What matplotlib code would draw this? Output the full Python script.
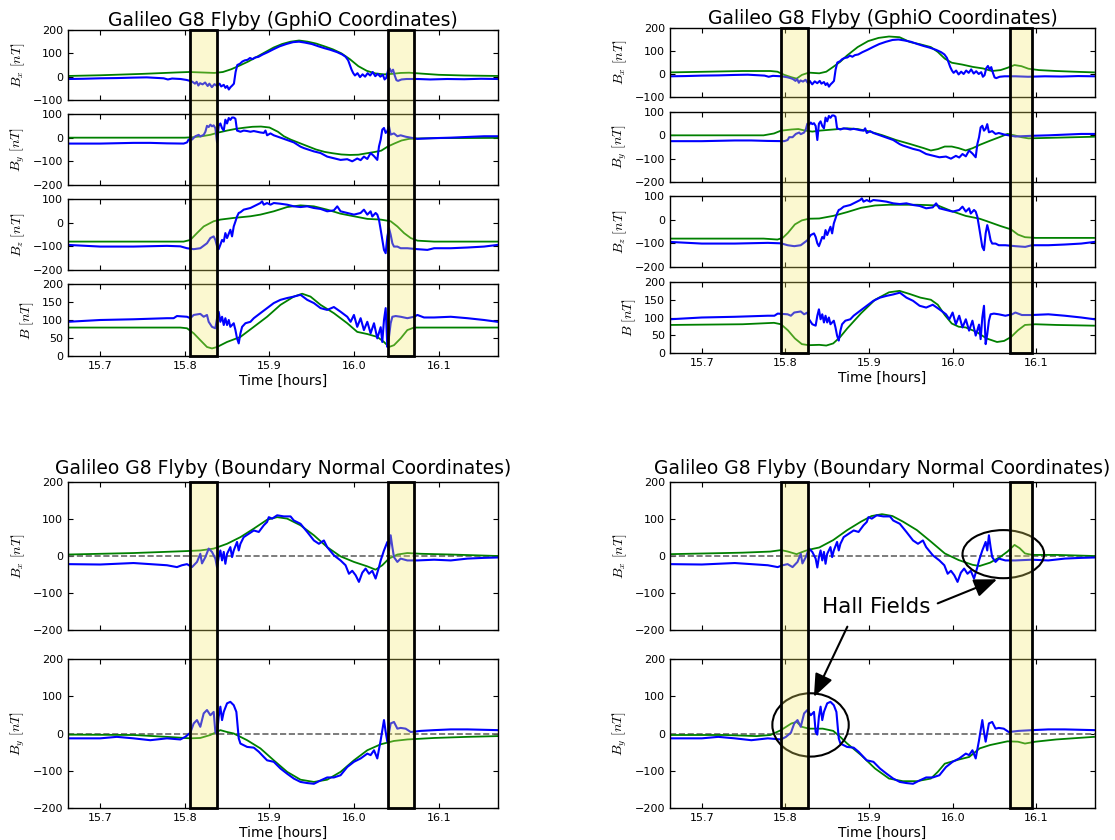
import numpy as np
import matplotlib
matplotlib.use("Agg")
import matplotlib.pyplot as plt
from matplotlib.patches import Rectangle, Ellipse
import matplotlib.transforms as mtransforms

# ---- axis setup -------------------------------------------------------------
xlim = (15.662, 16.170)
xticks = [15.7, 15.8, 15.9, 16.0, 16.1]
xticklabels = ["15.7", "15.8", "15.9", "16.0", "16.1"]

title_gphio = "Galileo G8 Flyby (GphiO Coordinates)"
title_bn = "Galileo G8 Flyby (Boundary Normal Coordinates)"

# shaded magnetopause crossings [hours]
boxes_left = [(15.806, 15.838), (16.040, 16.071)]
boxes_right = [(15.795, 15.827), (16.068, 16.095)]

# ---- Galileo observations (time [h], value [nT]) -----------------------------
bx_obs = np.array([
    [15.662, -10], [15.680, -9], [15.700, -7], [15.720, -6], [15.740, -4],
    [15.755, -3], [15.765, -5], [15.775, -7], [15.780, -12], [15.785, -8],
    [15.795, -10], [15.802, -14], [15.806, -18], [15.809, -22], [15.812, -30],
    [15.814, -22], [15.816, -38], [15.818, -28], [15.821, -33], [15.824, -25],
    [15.827, -40], [15.829, -30], [15.832, -45], [15.835, -32], [15.838, -40],
    [15.841, -30], [15.843, -42], [15.846, -35], [15.848, -48], [15.850, -40],
    [15.852, -55], [15.854, -45], [15.856, -38], [15.858, -30], [15.860, 20],
    [15.862, 50], [15.865, 55], [15.868, 65], [15.871, 70], [15.874, 72],
    [15.877, 80], [15.880, 75], [15.883, 82], [15.887, 85], [15.892, 95],
    [15.898, 105], [15.905, 118], [15.912, 130], [15.920, 140], [15.928, 148],
    [15.935, 150], [15.942, 146], [15.950, 140], [15.958, 130], [15.965, 122],
    [15.972, 115], [15.980, 105], [15.986, 95], [15.990, 85], [15.993, 70],
    [15.995, 50], [15.997, 30], [15.999, 15], [16.001, 5], [16.004, 15],
    [16.007, -2], [16.010, 10], [16.013, 0], [16.016, 15], [16.019, 5],
    [16.022, 20], [16.025, 2], [16.028, 12], [16.031, 0], [16.034, 8],
    [16.036, -12], [16.038, -5], [16.040, 25], [16.042, 35], [16.044, 20],
    [16.046, 30], [16.048, 5], [16.050, -15], [16.052, -18], [16.056, -12],
    [16.062, -10], [16.075, -10], [16.090, -12], [16.110, -10], [16.130, -11],
    [16.150, -9], [16.170, -10]])

by_obs = np.array([
    [15.6617, -25], [15.7000, -25], [15.7394, -22], [15.7592, -22], [15.7789, -24],
    [15.7986, -25], [15.8026, -20], [15.8045, -8], [15.8085, -8], [15.8124, 6],
    [15.8164, 12], [15.8183, 5], [15.8223, 12], [15.8243, 25], [15.8262, 50],
    [15.8282, 45], [15.8302, 55], [15.8321, 48], [15.8341, 52], [15.8361, 40],
    [15.8381, -20], [15.8400, 50], [15.8420, 60], [15.8440, 40], [15.8460, 30],
    [15.8479, 76], [15.8499, 60], [15.8519, 83], [15.8538, 75], [15.8558, 85],
    [15.8578, 85], [15.8598, 80], [15.8617, 30], [15.8657, 25], [15.8696, 30],
    [15.8736, 28], [15.8775, 25], [15.8815, 28], [15.8854, 25], [15.8893, 22],
    [15.8933, 20], [15.8953, 30], [15.8972, 10], [15.9012, 18], [15.9051, 10],
    [15.9091, 5], [15.9170, -5], [15.9249, -15], [15.9288, -20], [15.9367, -38],
    [15.9406, -44], [15.9525, -58], [15.9604, -65], [15.9682, -80], [15.9761, -87],
    [15.9840, -94], [15.9919, -91], [15.9978, -100], [16.0037, -88], [16.0077, -95],
    [16.0116, -80], [16.0156, -90], [16.0195, -65], [16.0235, -78], [16.0274, -94],
    [16.0294, -37], [16.0314, -8], [16.0333, 34], [16.0353, 41], [16.0373, 20],
    [16.0393, 28], [16.0412, 48], [16.0432, 13], [16.0471, 18], [16.0511, 6],
    [16.0550, 10], [16.0609, 4], [16.0669, 0], [16.0748, -5], [16.0945, -2],
    [16.1142, 0], [16.1339, 3], [16.1536, 6], [16.1694, 6]])

bz_obs = np.array([
    [15.6617, -94], [15.7000, -101], [15.7394, -101], [15.7789, -98], [15.7947, -100],
    [15.8026, -108], [15.8105, -112], [15.8183, -108], [15.8262, -87], [15.8302, -65],
    [15.8341, -58], [15.8361, -73], [15.8381, -100], [15.8400, -112], [15.8420, -93],
    [15.8440, -73], [15.8460, -80], [15.8479, -44], [15.8499, -65], [15.8538, -30],
    [15.8558, -58], [15.8578, -16], [15.8598, 5], [15.8617, 26], [15.8637, 41],
    [15.8657, 44], [15.8696, 55], [15.8775, 62], [15.8854, 76], [15.8893, 83],
    [15.8913, 90], [15.8933, 76], [15.8972, 83], [15.9012, 76], [15.9051, 83],
    [15.9130, 80], [15.9209, 76], [15.9288, 69], [15.9367, 66], [15.9446, 69],
    [15.9525, 62], [15.9604, 58], [15.9682, 48], [15.9761, 52], [15.9801, 69],
    [15.9840, 48], [15.9919, 41], [15.9998, 34], [16.0077, 41], [16.0116, 55],
    [16.0156, 34], [16.0195, 48], [16.0215, 26], [16.0254, 41], [16.0274, 34],
    [16.0294, 12], [16.0314, -30], [16.0353, -115], [16.0373, -129], [16.0393, -58],
    [16.0412, -23], [16.0432, -51], [16.0452, -87], [16.0471, -101], [16.0511, -101],
    [16.0550, -108], [16.0629, -108], [16.0748, -112], [16.0866, -115], [16.0945, -108],
    [16.1142, -108], [16.1339, -105], [16.1536, -101], [16.1694, -94]])

b_obs = np.array([
    [15.6617, 95], [15.7000, 100], [15.7394, 102], [15.7789, 105], [15.7868, 105],
    [15.7907, 111], [15.8026, 109], [15.8065, 105], [15.8105, 114], [15.8183, 117],
    [15.8223, 109], [15.8262, 114], [15.8282, 95], [15.8321, 81], [15.8361, 77],
    [15.8381, 105], [15.8400, 123], [15.8420, 95], [15.8440, 109], [15.8460, 86],
    [15.8479, 105], [15.8499, 86], [15.8519, 100], [15.8538, 81], [15.8578, 91],
    [15.8598, 72], [15.8617, 49], [15.8637, 35], [15.8657, 63], [15.8677, 81],
    [15.8716, 91], [15.8775, 95], [15.8815, 105], [15.8893, 119], [15.8972, 133],
    [15.9051, 147], [15.9130, 156], [15.9209, 161], [15.9288, 165], [15.9367, 170],
    [15.9446, 156], [15.9525, 147], [15.9604, 133], [15.9682, 128], [15.9761, 136],
    [15.9840, 123], [15.9919, 109], [15.9959, 95], [15.9998, 114], [16.0037, 81],
    [16.0077, 105], [16.0116, 72], [16.0156, 95], [16.0195, 63], [16.0235, 91],
    [16.0274, 49], [16.0314, 80], [16.0333, 39], [16.0353, 100], [16.0373, 133],
    [16.0393, 25], [16.0412, 53], [16.0432, 91], [16.0452, 109], [16.0491, 111],
    [16.0550, 109], [16.0629, 105], [16.0708, 109], [16.0748, 114], [16.0826, 107],
    [16.0945, 107], [16.1142, 109], [16.1339, 105], [16.1536, 100], [16.1694, 95]])

# boundary normal components
bn_x_obs = np.array([
    [15.6617, -22], [15.7000, -23], [15.7394, -19], [15.7592, -22], [15.7789, -25],
    [15.7907, -30], [15.7966, -25], [15.8026, -22], [15.8085, -30], [15.8144, -16],
    [15.8183, 6], [15.8203, -20], [15.8243, -3], [15.8282, 20], [15.8321, 11],
    [15.8361, -7], [15.8381, -31], [15.8400, -3], [15.8420, 15], [15.8440, -12],
    [15.8460, 11], [15.8479, -21], [15.8499, 6], [15.8538, 24], [15.8558, -3],
    [15.8578, 15], [15.8617, 38], [15.8637, 15], [15.8657, 33], [15.8696, 51],
    [15.8755, 60], [15.8815, 69], [15.8874, 65], [15.8933, 83], [15.8972, 92],
    [15.8992, 105], [15.9032, 101], [15.9091, 110], [15.9170, 107], [15.9249, 107],
    [15.9288, 96], [15.9367, 87], [15.9446, 65], [15.9525, 42], [15.9584, 33],
    [15.9643, 42], [15.9682, 24], [15.9761, 2], [15.9840, -12], [15.9899, -25],
    [15.9939, -48], [15.9978, -40], [16.0018, -52], [16.0057, -70], [16.0097, -45],
    [16.0136, -34], [16.0176, -48], [16.0215, -40], [16.0254, -61], [16.0294, -30],
    [16.0314, -12], [16.0353, 15], [16.0393, 38], [16.0412, 15], [16.0432, 56],
    [16.0452, 24], [16.0471, -3], [16.0511, -16], [16.0550, -7], [16.0629, -12],
    [16.0748, -12], [16.0945, -10], [16.1142, -12], [16.1339, -7], [16.1536, -5],
    [16.1694, -4]])

bn_y_obs = np.array([
    [15.6617, -13], [15.7000, -13], [15.7197, -9], [15.7394, -13], [15.7592, -18],
    [15.7789, -13], [15.7947, -16], [15.8006, -9], [15.8065, 2], [15.8105, 27],
    [15.8144, 36], [15.8183, 18], [15.8223, 54], [15.8262, 63], [15.8302, 49],
    [15.8341, 58], [15.8361, 4], [15.8381, -3], [15.8400, 45], [15.8420, 72],
    [15.8440, 36], [15.8460, 58], [15.8499, 81], [15.8538, 85], [15.8578, 76],
    [15.8609, 58], [15.8637, -13], [15.8657, -27], [15.8736, -36], [15.8815, -38],
    [15.8874, -49], [15.8933, -63], [15.8972, -72], [15.9051, -76], [15.9130, -94],
    [15.9209, -108], [15.9288, -121], [15.9367, -130], [15.9446, -133], [15.9525, -135],
    [15.9604, -126], [15.9682, -118], [15.9761, -118], [15.9840, -112], [15.9919, -90],
    [15.9998, -76], [16.0077, -67], [16.0156, -54], [16.0195, -58], [16.0235, -45],
    [16.0274, -67], [16.0314, -18], [16.0353, 36], [16.0373, 4], [16.0393, -22],
    [16.0432, 27], [16.0471, 31], [16.0511, 13], [16.0550, 15], [16.0609, 13],
    [16.0669, 4], [16.0787, 7], [16.0945, 9], [16.1142, 11], [16.1339, 11],
    [16.1694, 9]])

# ---- model fields, left column (time [h], value [nT]) -----------------------
bx_mod_l = np.array([
    [15.662, 3], [15.700, 6], [15.750, 12], [15.790, 18], [15.805, 20], [15.820, 18],
    [15.835, 16], [15.845, 20], [15.855, 32], [15.865, 48], [15.875, 65], [15.885, 85],
    [15.895, 105], [15.905, 125], [15.915, 140], [15.925, 150], [15.935, 155],
    [15.945, 150], [15.955, 142], [15.965, 130], [15.975, 117], [15.985, 100],
    [15.995, 75], [16.005, 45], [16.015, 25], [16.025, 14], [16.035, 10], [16.045, 12],
    [16.055, 16], [16.065, 17], [16.080, 13], [16.100, 8], [16.130, 5], [16.170, 3]])

by_mod_l = np.array([
    [15.662, 0], [15.760, 0], [15.800, 0], [15.810, 2], [15.820, 6], [15.830, 12],
    [15.840, 22], [15.850, 30], [15.860, 37], [15.870, 42], [15.880, 46], [15.890, 47],
    [15.900, 43], [15.910, 25], [15.917, 6], [15.925, -8], [15.935, -22], [15.945, -36],
    [15.955, -50], [15.965, -60], [15.975, -66], [15.985, -71], [15.995, -73],
    [16.005, -72], [16.015, -66], [16.025, -60], [16.032, -55], [16.040, -37],
    [16.048, -24], [16.056, -12], [16.065, -5], [16.080, -3], [16.100, -2], [16.170, -1]])

bz_mod_l = np.array([
    [15.6617, -80], [15.7986, -80], [15.8065, -73], [15.8144, -44], [15.8223, -16],
    [15.8341, 6], [15.8420, 13], [15.8578, 20], [15.8775, 27], [15.8893, 34],
    [15.9051, 48], [15.9209, 66], [15.9367, 73], [15.9525, 69], [15.9682, 55],
    [15.9840, 38], [15.9998, 27], [16.0156, 16], [16.0314, 13], [16.0432, 6],
    [16.0511, -16], [16.0590, -44], [16.0669, -65], [16.0748, -76], [16.0945, -80],
    [16.1694, -80]])

b_mod_l = np.array([
    [15.6617, 79], [15.7947, 79], [15.8026, 77], [15.8105, 63], [15.8183, 44],
    [15.8262, 25], [15.8321, 21], [15.8381, 25], [15.8499, 39], [15.8657, 53],
    [15.8815, 81], [15.8972, 109], [15.9130, 142], [15.9288, 165], [15.9387, 173],
    [15.9485, 165], [15.9604, 142], [15.9761, 119], [15.9919, 91], [16.0037, 67],
    [16.0156, 61], [16.0274, 53], [16.0353, 39], [16.0412, 25], [16.0471, 30],
    [16.0550, 49], [16.0629, 72], [16.0708, 79], [16.1694, 79]])

bn_x_mod_l = np.array([
    [15.6617, 4], [15.7394, 8], [15.7986, 13], [15.8183, 15], [15.8341, 20],
    [15.8499, 33], [15.8657, 51], [15.8815, 74], [15.8972, 98], [15.9091, 105],
    [15.9209, 101], [15.9367, 83], [15.9525, 56], [15.9682, 24], [15.9840, -1],
    [15.9998, -16], [16.0156, -28], [16.0254, -37], [16.0333, -25], [16.0412, -7],
    [16.0511, 4], [16.0629, 8], [16.0787, 6], [16.1142, 4], [16.1694, 0]])

bn_y_mod_l = np.array([
    [15.6617, -3], [15.7394, -4], [15.7789, -9], [15.8065, -13], [15.8183, -12],
    [15.8302, -4], [15.8420, 9], [15.8499, 4], [15.8578, 0], [15.8736, -18],
    [15.8893, -40], [15.9051, -72], [15.9209, -103], [15.9367, -124], [15.9525, -130],
    [15.9682, -124], [15.9840, -103], [15.9998, -72], [16.0156, -45], [16.0314, -29],
    [16.0471, -20], [16.0629, -16], [16.0945, -12], [16.1339, -9], [16.1694, -7]])

# ---- model fields, right column ----------------------------------------------
bx_mod_r = np.array([
    [15.6625, 7], [15.7071, 10], [15.7488, 13], [15.7821, 13], [15.7904, 10],
    [15.7988, -4], [15.8071, -14], [15.8133, -20], [15.8196, -4], [15.8279, 6],
    [15.8404, 3], [15.8488, 10], [15.8571, 31], [15.8654, 53], [15.8738, 81],
    [15.8863, 117], [15.8988, 143], [15.9113, 157], [15.9238, 163], [15.9363, 160],
    [15.9488, 139], [15.9613, 129], [15.9738, 117], [15.9821, 96], [15.9904, 67],
    [15.9988, 49], [16.0113, 41], [16.0238, 31], [16.0363, 24], [16.0467, 13],
    [16.0571, 17], [16.0654, 27], [16.0738, 39], [16.0821, 34], [16.0904, 23],
    [16.1029, 17], [16.1238, 13], [16.1446, 10], [16.1688, 7]])

by_mod_r = np.array([
    [15.6625, 0], [15.7738, 0], [15.7863, 8], [15.7946, 20], [15.8071, 25],
    [15.8154, 27], [15.8238, 20], [15.8321, 16], [15.8404, 20], [15.8571, 25],
    [15.8738, 30], [15.8863, 27], [15.8988, 18], [15.9154, 1], [15.9321, -20],
    [15.9488, -37], [15.9654, -55], [15.9738, -65], [15.9821, -59], [15.9904, -48],
    [15.9988, -48], [16.0071, -55], [16.0154, -65], [16.0238, -55], [16.0321, -41],
    [16.0446, -23], [16.0571, -6], [16.0654, 6], [16.0738, 0], [16.0821, -8],
    [16.0904, -13], [16.1238, -10], [16.1688, -6]])

bz_mod_r = np.array([
    [15.6625, -80], [15.7738, -80], [15.7904, -84], [15.7967, -77], [15.8029, -56],
    [15.8113, -20], [15.8196, -3], [15.8279, 4], [15.8404, 5], [15.8571, 16],
    [15.8738, 32], [15.8904, 50], [15.9071, 60], [15.9238, 63], [15.9571, 63],
    [15.9821, 60], [15.9988, 36], [16.0154, 16], [16.0321, 4], [16.0404, -6],
    [16.0571, -27], [16.0696, -41], [16.0779, -63], [16.0863, -74], [16.0988, -77],
    [16.1688, -77]])

b_mod_r = np.array([
    [15.6625, 79], [15.7488, 81], [15.7863, 85], [15.7946, 81], [15.8029, 64],
    [15.8113, 41], [15.8196, 25], [15.8279, 22], [15.8404, 23], [15.8488, 21],
    [15.8571, 27], [15.8654, 45], [15.8738, 69], [15.8904, 112], [15.9071, 150],
    [15.9238, 171], [15.9363, 175], [15.9488, 166], [15.9613, 156], [15.9738, 150],
    [15.9821, 136], [15.9904, 107], [15.9988, 83], [16.0071, 74], [16.0154, 72],
    [16.0279, 60], [16.0404, 41], [16.0529, 31], [16.0613, 34], [16.0696, 45],
    [16.0779, 64], [16.0863, 79], [16.0988, 81], [16.1238, 79], [16.1688, 77]])

bn_x_mod_r = np.array([
    [15.6625, 5], [15.7488, 9], [15.7821, 12], [15.7946, 16], [15.8029, 12],
    [15.8133, 5], [15.8238, 14], [15.8321, 19], [15.8404, 23], [15.8571, 43],
    [15.8738, 70], [15.8904, 93], [15.9029, 108], [15.9154, 113], [15.9279, 108],
    [15.9404, 93], [15.9571, 70], [15.9738, 39], [15.9904, 7], [16.0071, -11],
    [16.0238, -24], [16.0321, -27], [16.0446, -18], [16.0571, -2], [16.0654, 12],
    [16.0738, 30], [16.0800, 21], [16.0863, 7], [16.0946, 3], [16.1238, 3],
    [16.1688, 0]])

bn_y_mod_r = np.array([
    [15.6625, -4], [15.7279, -4], [15.7654, -7], [15.7821, -4], [15.7946, 9],
    [15.8071, 27], [15.8133, 31], [15.8196, 18], [15.8279, 13], [15.8446, 13],
    [15.8571, 7], [15.8654, -9], [15.8738, -27], [15.8904, -58], [15.9071, -94],
    [15.9238, -121], [15.9404, -128], [15.9571, -128], [15.9738, -121], [15.9821, -103],
    [15.9904, -81], [16.0071, -70], [16.0196, -63], [16.0321, -40], [16.0446, -31],
    [16.0654, -21], [16.0779, -22], [16.0863, -27], [16.0988, -22], [16.1238, -16],
    [16.1688, -9]])

# ---- style ------------------------------------------------------------------
plt.rcParams.update({
    "font.family": "DejaVu Sans",
    "font.size": 8,
    "mathtext.fontset": "cm",
    "xtick.direction": "in",
    "ytick.direction": "in",
    "xtick.top": True,
    "ytick.right": True,
    "xtick.major.size": 3.5,
    "ytick.major.size": 3.5,
    "axes.linewidth": 1.0,
})

W, H = 1115, 840
fig = plt.figure(figsize=(W / 100, H / 100), dpi=100)

LEFT_COL = (68, 498)
RIGHT_COL = (670, 1095)
TITLE_SIZE = 13.5


def add_ax(col, top, bottom):
    # pixel box -> figure fraction
    left, right = col
    return fig.add_axes([left / W, 1 - bottom / H, (right - left) / W, (bottom - top) / H])


def panel(ax, obs, mod, ylim, yticks, ylabel, zero=False, last=False):
    if zero:
        ax.axhline(0, color="0.4", ls="--", lw=1.2)
    ax.plot(mod[:, 0], mod[:, 1], color="g", lw=1.3)
    ax.plot(obs[:, 0], obs[:, 1], color="b", lw=1.5)
    ax.set_xlim(xlim)
    ax.set_ylim(ylim)
    ax.set_yticks(yticks)
    ax.set_xticks(xticks)
    ax.set_ylabel(ylabel, fontsize=10)
    if last:
        ax.set_xticklabels(xticklabels)
        ax.set_xlabel("Time [hours]", fontsize=10, labelpad=2)
    else:
        ax.set_xticklabels([])


def shade(ax_top, ax_bot, boxes):
    trans = mtransforms.blended_transform_factory(ax_top.transData, fig.transFigure)
    y0 = ax_bot.get_position().y0
    y1 = ax_top.get_position().y1
    for t0, t1 in boxes:
        fig.add_artist(Rectangle((t0, y0), t1 - t0, y1 - y0, transform=trans,
                                 facecolor=(0.96, 0.92, 0.4, 0.3), edgecolor="k",
                                 lw=2, zorder=5))


gphio_obs = [bx_obs, by_obs, bz_obs, b_obs]
gphio_lim = [(-100, 200), (-200, 100), (-200, 100), (0, 200)]
gphio_ticks = [[-100, 0, 100, 200], [-200, -100, 0, 100], [-200, -100, 0, 100],
               [0, 50, 100, 150, 200]]
gphio_labels = [r"$B_x\ [nT]$", r"$B_y\ [nT]$", r"$B_z\ [nT]$", r"$B\ [nT]$"]

# top left
rows_l = [(30, 100), (114, 185), (199, 270), (284, 356)]
axes_tl = []
for i, (top, bot) in enumerate(rows_l):
    ax = add_ax(LEFT_COL, top, bot)
    panel(ax, gphio_obs[i], [bx_mod_l, by_mod_l, bz_mod_l, b_mod_l][i],
          gphio_lim[i], gphio_ticks[i], gphio_labels[i], last=(i == 3))
    axes_tl.append(ax)
axes_tl[0].set_title(title_gphio, fontsize=TITLE_SIZE, pad=1)
shade(axes_tl[0], axes_tl[-1], boxes_left)

# top right
rows_r = [(28, 97), (112, 182), (196, 267), (282, 353)]
axes_tr = []
for i, (top, bot) in enumerate(rows_r):
    ax = add_ax(RIGHT_COL, top, bot)
    panel(ax, gphio_obs[i], [bx_mod_r, by_mod_r, bz_mod_r, b_mod_r][i],
          gphio_lim[i], gphio_ticks[i], gphio_labels[i], last=(i == 3))
    axes_tr.append(ax)
axes_tr[0].set_title(title_gphio, fontsize=TITLE_SIZE, pad=1)
shade(axes_tr[0], axes_tr[-1], boxes_right)

# bottom panels
bn_ticks = [-200, -100, 0, 100, 200]
ax_bl1 = add_ax(LEFT_COL, 482, 630)
ax_bl2 = add_ax(LEFT_COL, 659, 808)
panel(ax_bl1, bn_x_obs, bn_x_mod_l, (-200, 200), bn_ticks, r"$B_x\ [nT]$", zero=True)
panel(ax_bl2, bn_y_obs, bn_y_mod_l, (-200, 200), bn_ticks, r"$B_y\ [nT]$", zero=True, last=True)
ax_bl1.set_title(title_bn, fontsize=TITLE_SIZE, pad=6)
shade(ax_bl1, ax_bl2, boxes_left)

ax_br1 = add_ax(RIGHT_COL, 482, 630)
ax_br2 = add_ax(RIGHT_COL, 659, 808)
panel(ax_br1, bn_x_obs, bn_x_mod_r, (-200, 200), bn_ticks, r"$B_x\ [nT]$", zero=True)
panel(ax_br2, bn_y_obs, bn_y_mod_r, (-200, 200), bn_ticks, r"$B_y\ [nT]$", zero=True, last=True)
ax_br1.set_title(title_bn, fontsize=TITLE_SIZE, pad=6)
shade(ax_br1, ax_br2, boxes_right)

# Hall field annotations
ax_br1.add_patch(Ellipse((16.0604, 5), 0.0975, 130, fill=False, ec="k", lw=1.5, zorder=4))
ax_br2.add_patch(Ellipse((15.830, 23), 0.0913, 170, fill=False, ec="k", lw=1.5, zorder=4))

ax_br1.text(15.908, -137, "Hall Fields", fontsize=15.5, ha="center", va="center",
            clip_on=False)
arrow = dict(arrowstyle="-|>,head_length=1.0,head_width=0.4", color="k", lw=1.5,
             mutation_scale=14, shrinkA=0, shrinkB=0)
ax_br1.annotate("", xy=(16.053, -63), xytext=(15.982, -128), arrowprops=arrow,
                annotation_clip=False)
ax_br2.annotate("", xy=(15.834, 98), xytext=(15.874, -191),
                xycoords="data", textcoords=ax_br1.transData, arrowprops=arrow,
                annotation_clip=False)

fig.savefig("out.png", dpi=100, facecolor="white")
